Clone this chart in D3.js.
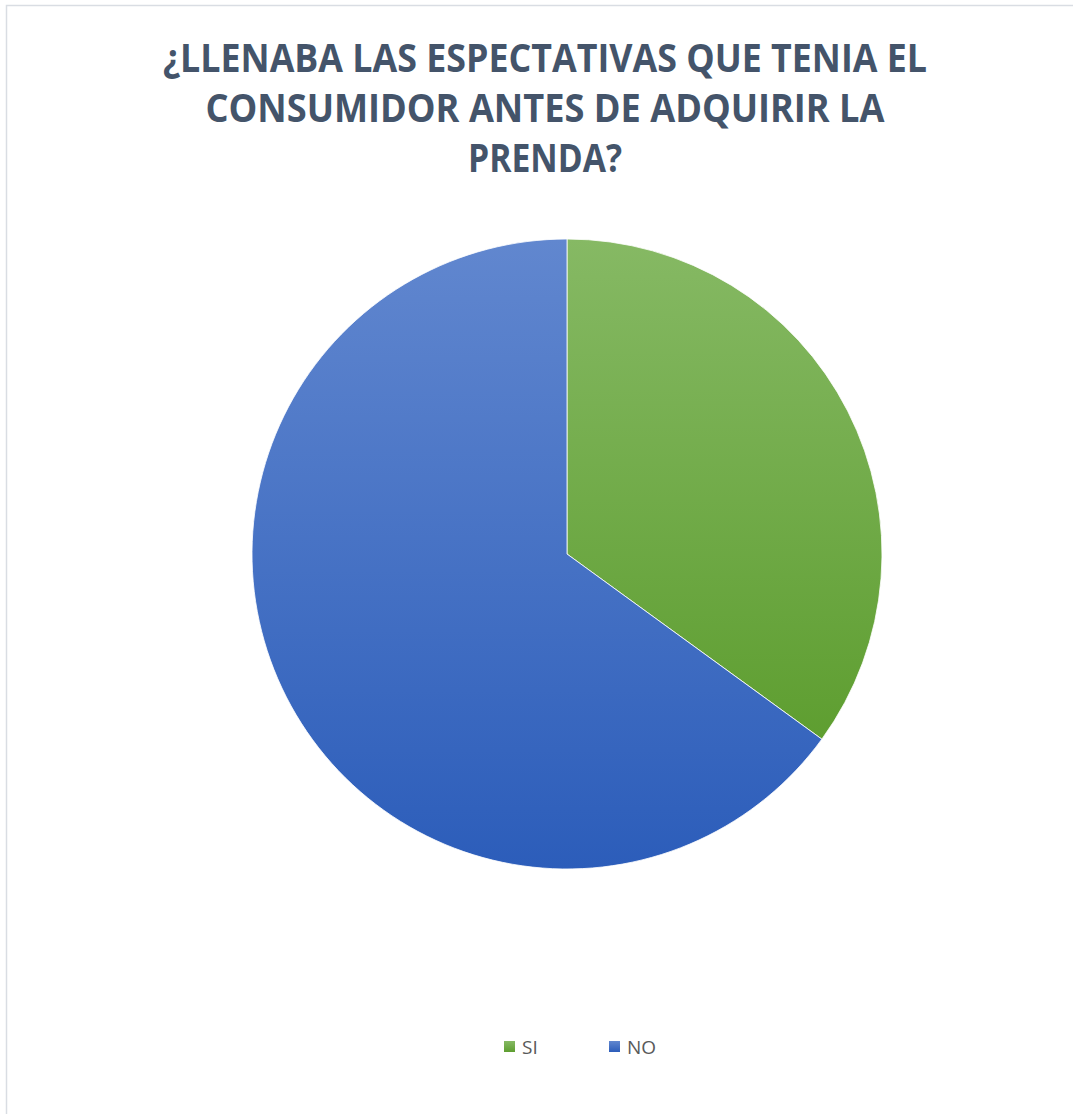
<!DOCTYPE html>
<html>
<head>
<meta charset="utf-8">
<script src="https://cdn.jsdelivr.net/npm/d3@7"></script>
<style>
  html, body { margin: 0; padding: 0; background: #ffffff; }
  svg { display: block; }
</style>
</head>
<body>
<svg id="chart" width="1073" height="1114"></svg>
<script>
// Survey answers
const categories = ["SI", "NO"];
const values = [35, 65];
const titleLines = [
  "¿LLENABA LAS ESPECTATIVAS QUE TENIA EL",
  "CONSUMIDOR ANTES DE ADQUIRIR LA",
  "PRENDA?"
];

const svg = d3.select("#chart");
const W = 1073, H = 1114;

// chart frame
svg.append("rect")
  .attr("x", 6.5).attr("y", 5.5)
  .attr("width", W).attr("height", H)
  .attr("fill", "#ffffff")
  .attr("stroke", "#d9dde3")
  .attr("stroke-width", 1.5);

// slice gradients (light at top, darker at bottom)
const gradStops = {
  SI: ["#86b964", "#5e9e30"],
  NO: ["#6187cf", "#2c5dba"]
};
const defs = svg.append("defs");
categories.forEach(c => {
  const g = defs.append("linearGradient")
    .attr("id", "grad-" + c)
    .attr("x1", 0).attr("y1", 0).attr("x2", 0).attr("y2", 1);
  g.append("stop").attr("offset", "0%").attr("stop-color", gradStops[c][0]);
  g.append("stop").attr("offset", "100%").attr("stop-color", gradStops[c][1]);
});

// title
const title = svg.append("g").attr("class", "title");
const titleWidths = [764, 679, 154];
const titleBase = [72, 122, 172];
titleLines.forEach((t, i) => {
  title.append("text")
    .attr("x", 545).attr("y", titleBase[i])
    .attr("text-anchor", "middle")
    .attr("font-family", "'Open Sans', 'Liberation Sans', sans-serif")
    .attr("font-weight", "bold")
    .attr("font-size", 39)
    .attr("fill", "#44546a")
    .attr("textLength", titleWidths[i])
    .attr("lengthAdjust", "spacingAndGlyphs")
    .text(t);
});

// pie
const cx = 567, cy = 554, r = 315;
const pie = d3.pie().sort(null).value(d => d.value);
const arc = d3.arc().innerRadius(0).outerRadius(r);
const data = categories.map((c, i) => ({ name: c, value: values[i] }));

svg.append("g")
  .attr("transform", `translate(${cx},${cy})`)
  .selectAll("path")
  .data(pie(data))
  .join("path")
  .attr("d", arc)
  .attr("fill", d => `url(#grad-${d.data.name})`)
  .attr("stroke", "#ffffff")
  .attr("stroke-width", 0.8);

// legend
const legendX = [504, 609];
const legend = svg.append("g").attr("class", "legend");
categories.forEach((c, i) => {
  legend.append("rect")
    .attr("x", legendX[i]).attr("y", 1041)
    .attr("width", 11).attr("height", 11)
    .attr("fill", `url(#grad-${c})`);
  legend.append("text")
    .attr("x", legendX[i] + 18).attr("y", 1054)
    .attr("font-family", "'Open Sans', 'Liberation Sans', sans-serif")
    .attr("font-size", 19)
    .attr("fill", "#595959")
    .text(c);
});
</script>
</body>
</html>
